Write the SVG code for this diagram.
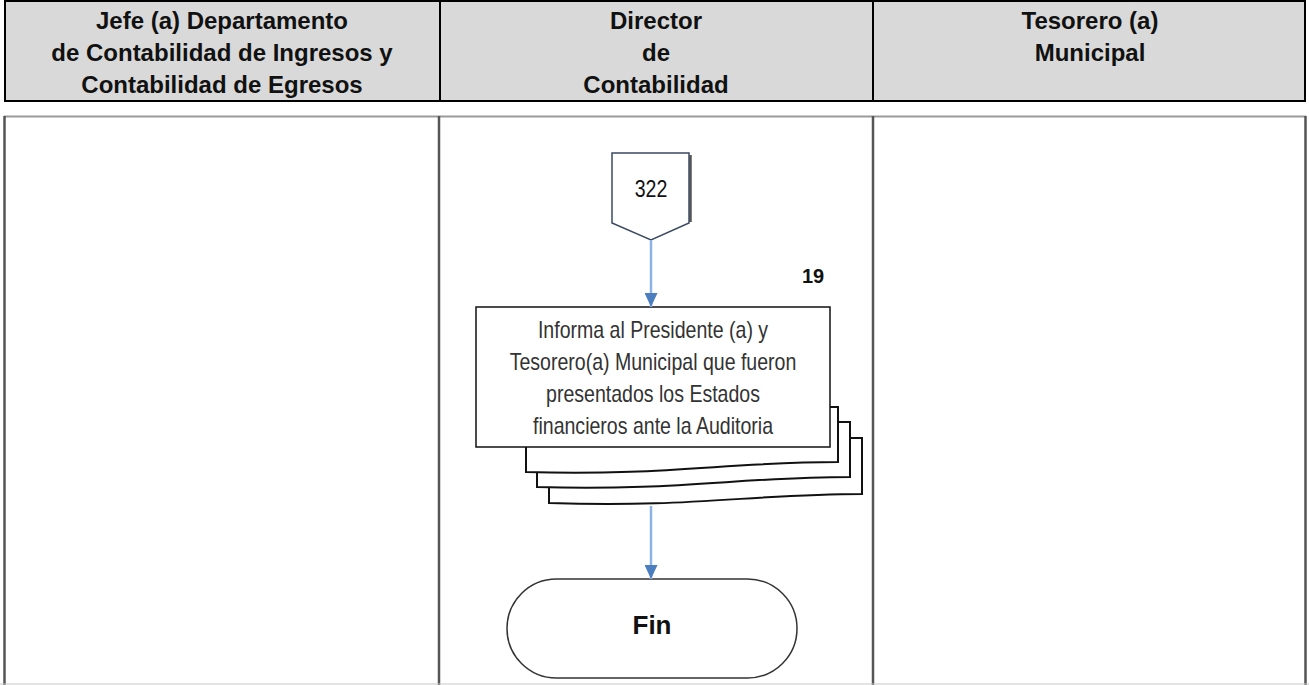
<svg xmlns="http://www.w3.org/2000/svg" width="1309" height="685" viewBox="0 0 1309 685">
  <defs>
    <style>
      .hdr { fill: #d9d9d9; stroke: #000; stroke-width: 2; }
      .hdr-text { font-family: "Liberation Sans", Arial, sans-serif; font-weight: bold; font-size: 24px; fill: #111; text-anchor: middle; }
      .lane { fill: none; stroke: #555; stroke-width: 2.5; }
      .lane-top { fill: none; stroke: #9a9a9a; stroke-width: 2; }
      .narrow { font-family: "Liberation Sans Narrow", "Liberation Sans", Arial, sans-serif; font-size: 23px; fill: #333; text-anchor: middle; }
      .doc { fill: #fff; stroke: #111; stroke-width: 2; }
      .flow { fill: none; stroke: #8db3e2; stroke-width: 2.5; }
    </style>
    <marker id="arrowhead" viewBox="0 0 14 13" refX="14" refY="6.5" markerWidth="14" markerHeight="13" markerUnits="userSpaceOnUse" orient="auto">
      <path d="M0,0 L14,6.5 L0,13 Z" fill="#4a7ebf"/>
    </marker>
  </defs>

  <rect width="1309" height="685" fill="#fff"/>

  <!-- swimlane headers -->
  <g id="lane-headers">
    <rect class="hdr" x="5" y="1" width="1300" height="100"/>
    <line x1="440" y1="1" x2="440" y2="101" stroke="#000" stroke-width="2"/>
    <line x1="873" y1="1" x2="873" y2="101" stroke="#000" stroke-width="2"/>
    <text class="hdr-text" x="222" y="29">Jefe (a) Departamento</text>
    <text class="hdr-text" x="222" y="61">de Contabilidad de Ingresos y</text>
    <text class="hdr-text" x="222" y="93">Contabilidad de Egresos</text>
    <text class="hdr-text" x="656" y="29">Director</text>
    <text class="hdr-text" x="656" y="61">de</text>
    <text class="hdr-text" x="656" y="93">Contabilidad</text>
    <text class="hdr-text" x="1090" y="29">Tesorero (a)</text>
    <text class="hdr-text" x="1090" y="61">Municipal</text>
  </g>

  <!-- swimlane bodies -->
  <g id="lane-bodies">
    <line class="lane-top" x1="4" y1="116.5" x2="1306" y2="116.5"/>
    <line class="lane" x1="4.5" y1="116" x2="4.5" y2="685"/>
    <line class="lane" x1="439" y1="116" x2="439" y2="685"/>
    <line class="lane" x1="873" y1="116" x2="873" y2="685"/>
    <line class="lane" x1="1305.5" y1="116" x2="1305.5" y2="685"/>
    <line x1="0" y1="684" x2="1309" y2="684" stroke="#c8c8c8" stroke-width="1"/>
  </g>

  <!-- off-page reference 322 -->
  <g id="ref-322">
    <line x1="690.5" y1="155" x2="690.5" y2="222" stroke="#555" stroke-width="2.5"/>
    <polygon points="612,153 689,153 689,223 651,240 612,223" fill="#fff" stroke="#3b4a63" stroke-width="1.5"/>
    <g transform="translate(651,0) scale(0.85,1)">
      <text class="narrow" x="0" y="197" style="fill:#111">322</text>
    </g>
  </g>

  <!-- step 19: informs, with stacked documents -->
  <g id="step-19">
    <text x="813" y="283" font-family="Liberation Sans, Arial, sans-serif" font-weight="bold" font-size="20" fill="#111" text-anchor="middle">19</text>
    <path class="doc" d="M549,438 H862 V494 C752,494 690,508 549,503 Z"/>
    <path class="doc" d="M537,422 H850 V477 C740,477 678,491 537,487 Z"/>
    <path class="doc" d="M526,407 H838 V462 C728,462 666,476 526,472 Z"/>
    <rect x="476" y="307" width="354" height="140" fill="#fff" stroke="#111" stroke-width="1.5"/>
    <g transform="translate(653,0) scale(0.85,1)">
      <text class="narrow" x="0" y="338">Informa al Presidente (a) y</text>
      <text class="narrow" x="0" y="370">Tesorero(a) Municipal que fueron</text>
      <text class="narrow" x="0" y="402">presentados los Estados</text>
      <text class="narrow" x="0" y="434">financieros ante la Auditoria</text>
    </g>
  </g>

  <!-- end terminator -->
  <g id="fin">
    <rect x="507" y="579" width="290" height="99" rx="49.5" ry="49.5" fill="#fff" stroke="#333" stroke-width="1.5"/>
    <text x="652" y="634" font-family="Liberation Sans, Arial, sans-serif" font-weight="bold" font-size="26" fill="#111" text-anchor="middle">Fin</text>
  </g>

  <!-- connectors -->
  <g id="connectors">
    <line class="flow" x1="651" y1="240" x2="651" y2="307" marker-end="url(#arrowhead)"/>
    <line class="flow" x1="651" y1="506" x2="651" y2="579" marker-end="url(#arrowhead)"/>
  </g>
</svg>
